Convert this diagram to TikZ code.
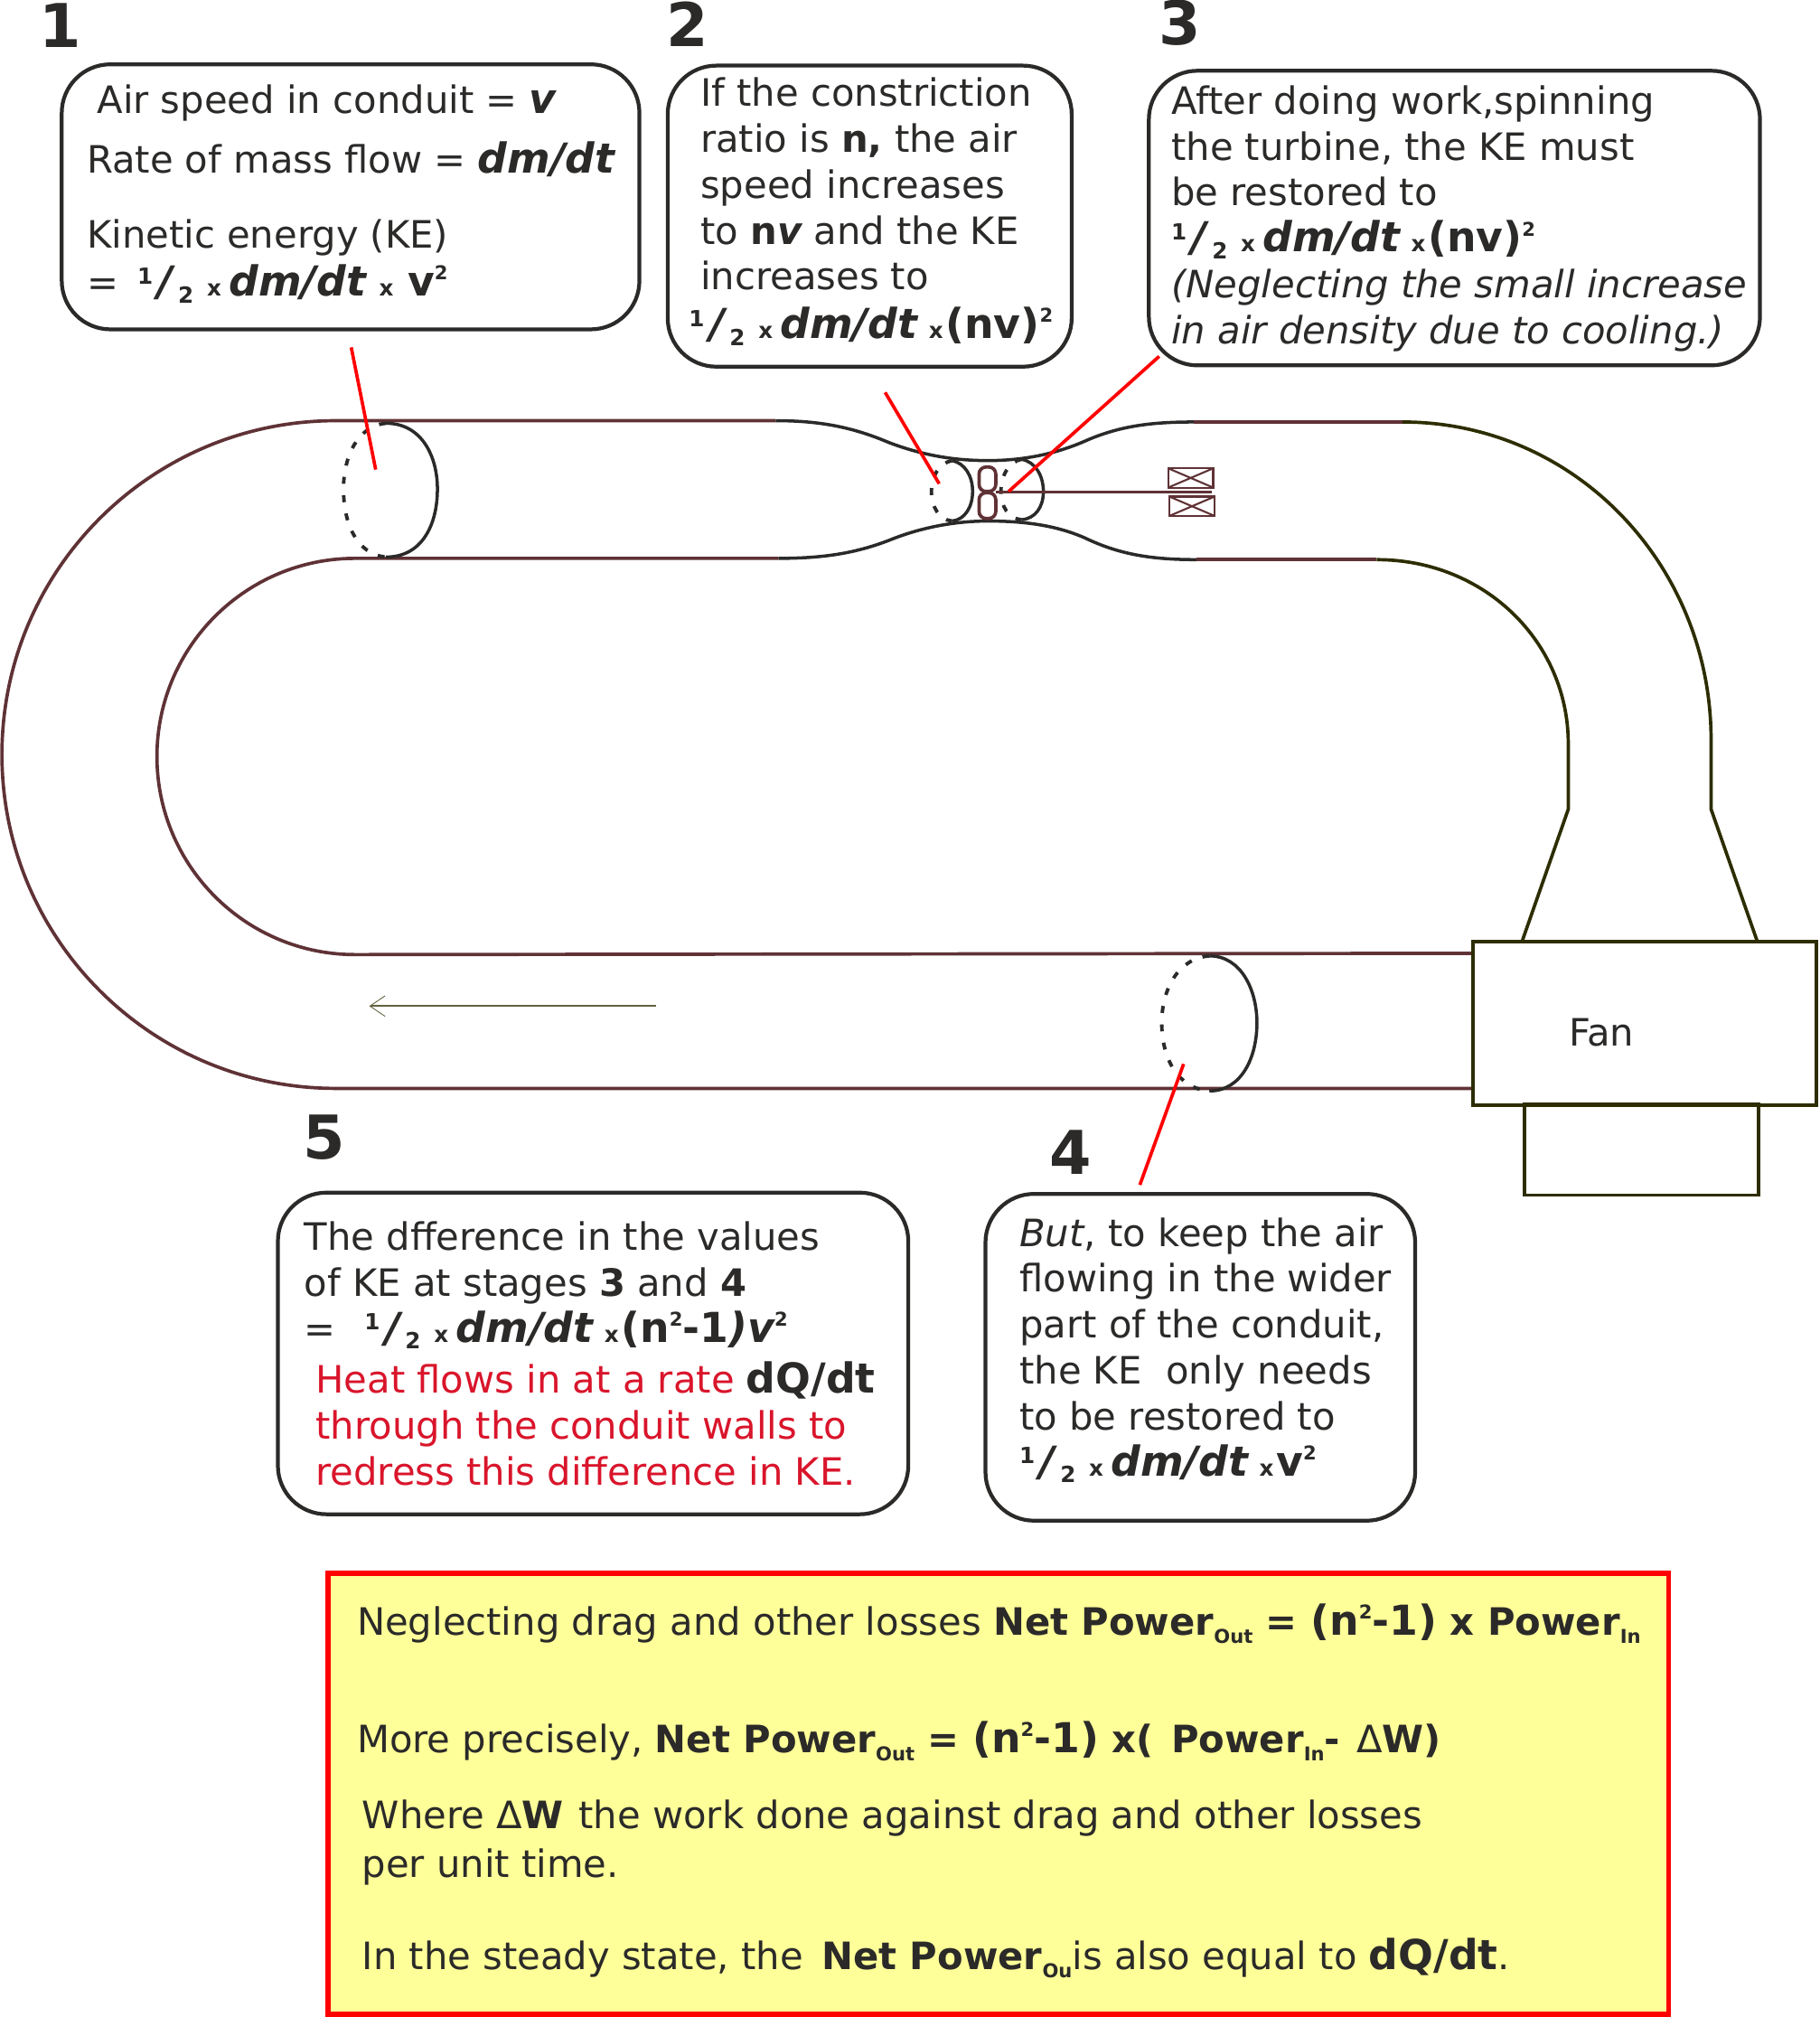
\documentclass[tikz,border=0pt]{standalone}
\usepackage{fontspec}
\setmainfont{DejaVu Sans}
\usetikzlibrary{arrows.meta}
\definecolor{inkdark}{HTML}{2B2A29}
\definecolor{pipebrown}{HTML}{5F3236}
\definecolor{fanolive}{HTML}{2D2D00}
\definecolor{heatred}{HTML}{D9152B}
\definecolor{notefill}{HTML}{FFFF99}
\newcommand{\tinyb}{\bfseries\fontsize{7}{7}\selectfont}
\newcommand{\subb}{\bfseries\fontsize{6}{6}\selectfont}
\newcommand{\bigb}{\bfseries\fontsize{13}{13}\selectfont}
\newcommand{\halfsign}{\smash{\raisebox{3.8pt}{\tinyb 1}}\kern1.6pt{\bigb\itshape /}\kern1.6pt\smash{\raisebox{-2.2pt}{\tinyb 2}}}
\newcommand{\xsign}{{\tinyb\kern4.2pt x\kern2.4pt}}
\newcommand{\xtight}{{\tinyb\kern3.6pt x\kern0.8pt}}
\newcommand{\dmdt}{{\bigb\itshape dm/dt}}
\newcommand{\dqdt}{{\bigb dQ/dt}}
\newcommand{\sqr}{\smash{\raisebox{5pt}{\subb 2}}}
\newcommand{\pout}{\smash{\raisebox{-2.6pt}{\subb Out}}}
\newcommand{\pin}{\smash{\raisebox{-2.6pt}{\subb In}}}
\tikzset{
  infobox/.style={draw=inkdark,line width=1.2pt,rounded corners=15.3pt},
  lbl/.style={anchor=north west,align=left,inner sep=0pt,text=inkdark,
    font=\fontsize{11.87}{14.45}\selectfont},
  num/.style={inner sep=0pt,text=inkdark,font=\fontsize{19}{19}\selectfont\bfseries},
  wall/.style={line width=1pt,draw=inkdark},
  brownwall/.style={line width=1.05pt,draw=pipebrown},
  olivewall/.style={line width=1.05pt,draw=fanolive},
  section/.style={line width=1pt,draw=inkdark},
  backedge/.style={section,line width=1.1pt,dash pattern=on 2.2pt off 3.6pt},
  pointer/.style={draw=red,line width=1.05pt}
}
\begin{document}
\begin{tikzpicture}[x=0.014236cm,y=-0.014236cm]
  \useasboundingbox (0,0) rectangle (1414,1567.8);

  \draw[brownwall] (603,327) -- (261,327) arc[start angle=270,end angle=90,radius=259.5] -- (1145,846);
  \draw[brownwall] (605,434) -- (276,434) arc[start angle=270,end angle=90,radius=154] -- (1145,741);
  \draw[wall] (603,327) .. controls (640,327) and (665,333) .. (691,344)
    .. controls (720,355) and (745,358) .. (768,358)
    .. controls (795,358) and (820,353) .. (843,343)
    .. controls (870,331) and (895,328) .. (928,328);
  \draw[wall] (605,434) .. controls (640,434) and (665,430) .. (691,420)
    .. controls (718,409) and (745,405) .. (768,405)
    .. controls (795,405) and (820,408) .. (843,418)
    .. controls (870,431) and (895,435) .. (930,435);
  \draw[brownwall] (928,328) -- (1090,328);
  \draw[brownwall] (930,435) -- (1070,435);
  \draw[olivewall] (1090,328) .. controls (1225,328) and (1330,440) .. (1330,575) -- (1330,629) -- (1366,732);
  \draw[olivewall] (1070,435) .. controls (1155,435) and (1219,500) .. (1219,578) -- (1219,629) -- (1183,732);

  \draw[olivewall] (1145,732) rectangle (1412,859);
  \draw[olivewall] (1185,858) rectangle (1367,929);
  \node[lbl,anchor=base west] (fanlabel) at (1219,813) {Fan};

  \draw[section] (300,329) .. controls (328,329) and (340,355) .. (340,380) .. controls (340,408) and (328,433) .. (300,433);
  \draw[backedge] (300,329) .. controls (278,331) and (267,355) .. (267,380) .. controls (267,408) and (278,431) .. (300,433);
  \draw[section] (940,743) .. controls (965,743) and (977,770) .. (977,795) .. controls (977,822) and (965,848) .. (940,848);
  \draw[backedge] (940,743) .. controls (915,745) and (903,770) .. (903,795) .. controls (903,822) and (915,846) .. (940,848);
  \draw[section] (740,358) .. controls (750,360) and (756,370) .. (756,382) .. controls (756,394) and (750,404) .. (740,405);
  \draw[backedge] (740,358) .. controls (730,360) and (724,370) .. (724,382) .. controls (724,394) and (730,404) .. (740,405);
  \draw[section] (794,357) .. controls (805,359) and (811,370) .. (811,382) .. controls (811,394) and (805,403) .. (794,404);
  \draw[backedge] (794,357) .. controls (784,359) and (778,370) .. (778,382) .. controls (778,394) and (784,403) .. (794,404);

  \draw[brownwall,rounded corners=2.2pt] (761,363) rectangle (774,382);
  \draw[brownwall,rounded corners=2.2pt] (761,383) rectangle (774,403);
  \draw[brownwall] (774,382.5) -- (942,382.5);
  \foreach \xl/\yt in {908/364,909/386} {
    \draw[brownwall,line width=0.6pt] (\xl,\yt) rectangle (\xl+35,\yt+15);
    \draw[brownwall,line width=0.6pt] (\xl,\yt) -- (\xl+35,\yt+15);
    \draw[brownwall,line width=0.6pt] (\xl,\yt+15) -- (\xl+35,\yt);
  }
  \coordinate (flowstart) at (510,782);
  \coordinate (flowend) at (287,782);
  \draw[line width=0.5pt,draw=fanolive!75,-{Straight Barb[length=4.8pt,width=6.5pt,line width=0.25pt]}] (flowstart) -- (flowend);

  \coordinate (pa1) at (273,270);
  \coordinate (pa2) at (292,365);
  \coordinate (pb1) at (688,305);
  \coordinate (pb2) at (730,376);
  \coordinate (pc1) at (901,277);
  \coordinate (pc2) at (784,382);
  \coordinate (pd1) at (920,827);
  \coordinate (pd2) at (886,921);
  \draw[pointer] (pa1) -- (pa2);
  \draw[pointer] (pb1) -- (pb2);
  \draw[pointer] (pc1) -- (pc2);
  \draw[pointer] (pd1) -- (pd2);

  \node[num] (numa) at (47,20) {1};
  \node[num] (numb) at (534,19) {2};
  \node[num] (numc) at (917,18) {3};
  \node[num] (numd) at (832,896) {4};
  \node[num] (nume) at (252,884) {5};

  \draw[infobox] (48,50) rectangle (497,256);
  \node[lbl,anchor=base west] (aira) at (75,88.5) {Air speed in conduit = {\bigb\itshape v}};
  \node[lbl,anchor=base west] (airb) at (67,134.5) {Rate of mass flow = \dmdt};
  \node[lbl,anchor=base west] (airc) at (67,193) {Kinetic energy (KE)};
  \node[lbl,anchor=base west] (aird) at (67,230) {=\kern6pt\halfsign\xsign\dmdt\xsign\kern2pt{\bigb v}\sqr};

  \draw[infobox] (519,51) rectangle (833,285);
  \node[lbl] (conb) at (544,60) {If the constriction\\ratio is {\bfseries n,} the air\\speed increases\\to {\bfseries n\itshape v} and the KE\\increases to};
  \node[lbl,anchor=base west] (conc) at (535,263) {\halfsign\xsign\dmdt\xtight{\bigb(nv)}\sqr};

  \draw[infobox] (893,55) rectangle (1368,284);
  \node[lbl] (turb) at (910,66) {After doing work,spinning\\the turbine, the KE must\\be restored to\\\halfsign\xsign\dmdt\xtight{\bigb(nv)}\sqr\\\itshape (Neglecting the small increase\\\itshape in air density due to cooling.)};

  \draw[infobox] (216,927) rectangle (706,1177);
  \node[lbl] (diffa) at (236,949) {The dfference in the values\\of KE at stages {\bfseries 3} and {\bfseries 4}\\=\ \ \kern1.5pt\halfsign\xsign\dmdt\xtight{\bigb(n\sqr-1{\itshape)v}}\sqr};
  \node[lbl] (diffb) at (245,1058) {\textcolor{heatred}{Heat flows in at a rate} \dqdt\\\textcolor{heatred}{through the conduit walls to}\\\textcolor{heatred}{redress this difference in KE.}};

  \draw[infobox] (766,928) rectangle (1100,1182);
  \node[lbl] (keep) at (792,946) {{\itshape But}, to keep the air\\flowing in the wider\\part of the conduit,\\the KE\ \ only needs\\to be restored to\\\halfsign\xsign\dmdt\xtight{\bigb v}\sqr};

  \draw[draw=red,fill=notefill,line width=1.7pt] (255,1223) rectangle (1297,1566);
  \node[lbl,anchor=base west] (notea) at (277,1271) {Neglecting drag and other losses {\bfseries Net Power\pout{} = {\bigb(n\sqr-1)} x Power\pin}};
  \node[lbl,anchor=base west] (noteb) at (277,1362) {More precisely, {\bfseries Net Power\pout{} = {\bigb(n\sqr-1)} x(\kern1.5pt\ Power\pin- \kern1pt{\normalfont Δ}W)}};
  \node[lbl,anchor=base west] (notec) at (281,1421) {Where Δ{\bfseries W}\kern1pt\ the work done against drag and other losses};
  \node[lbl,anchor=base west] (noted) at (281,1459) {per unit time.};
  \node[lbl,anchor=base west] (notee) at (281,1531) {In the steady state, the\kern2pt\ {\bfseries Net Power\smash{\raisebox{-2.6pt}{\subb Ou}}}is also equal to \dqdt.};
\end{tikzpicture}
\end{document}
